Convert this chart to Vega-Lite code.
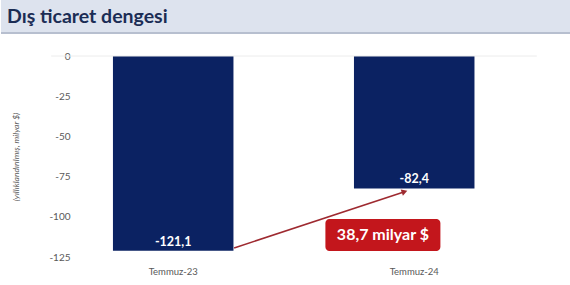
{
  "$schema": "https://vega.github.io/schema/vega-lite/v6.json",
  "padding": 0,
  "spacing": 17,
  "background": "white",
  "config": {
    "view": {"stroke": null},
    "font": "Lato",
    "locale": {"number": {"decimal": ",", "thousands": ".", "grouping": [3], "currency": ["", " $"], "minus": "-"}}
  },
  "vconcat": [
    {
      "width": 570,
      "height": 33,
      "view": {"fill": "#dde3ee", "stroke": null},
      "data": {"values": [{"title": "Dış ticaret dengesi"}]},
      "layer": [
        {
          "mark": {"type": "text", "align": "left", "baseline": "middle", "font": "Lato", "fontWeight": "bold", "fontSize": 19.5, "color": "#1b2d55", "dx": 6},
          "encoding": {
            "text": {"field": "title"},
            "x": {"datum": 0, "type": "quantitative", "scale": {"domain": [0, 1]}, "axis": null},
            "y": {"datum": 0.5, "type": "quantitative", "scale": {"domain": [0, 1]}, "axis": null}
          }
        },
        {
          "mark": {"type": "rule", "color": "#b7bfcf", "strokeWidth": 2},
          "encoding": {"y": {"datum": 0, "type": "quantitative"}}
        }
      ]
    },
    {
      "width": 570,
      "height": 201,
      "resolve": {"scale": {"x": "independent"}},
      "layer": [
        {
          "data": {"values": [
            {"period": "Temmuz-23", "value": -121.1},
            {"period": "Temmuz-24", "value": -82.4}
          ]},
          "encoding": {
            "x": {"field": "period", "type": "nominal", "sort": null,
              "scale": {"paddingInner": 0.5, "paddingOuter": 0.4325, "align": 0.537},
              "axis": {"title": null, "labelAngle": 0, "ticks": false, "domain": false, "labelPadding": 9, "labelFontSize": 9.5, "labelColor": "#595959", "labelFont": "Lato"}},
            "y": {"field": "value", "type": "quantitative",
              "scale": {"domain": [-125, 0], "nice": false, "zero": false},
              "axis": {"values": [0, -25, -50, -75, -100, -125], "offset": -72, "domain": false, "ticks": false, "grid": false, "labelPadding": 3, "labelFontSize": 10, "labelColor": "#595959", "labelFont": "Lato",
                "title": "(yıllıklandırılmış, milyar $)", "titleFontSize": 8.5, "titleFontStyle": "italic", "titleFontWeight": "normal", "titleColor": "#595959", "titlePadding": 28, "titleFont": "Lato"}}
          },
          "layer": [
            {"mark": {"type": "bar", "color": "#0b2262"}},
            {"mark": {"type": "text", "color": "white", "fontWeight": "bold", "fontSize": 12.5, "baseline": "middle", "dy": -9, "font": "Lato"},
             "encoding": {"text": {"field": "value", "type": "quantitative", "format": ".1f"}}}
          ]
        },
        {
          "data": {"values": [{"note": "38,7 milyar $"}]},
          "layer": [
            {
              "mark": {"type": "rule", "color": "#ececec", "strokeWidth": 1},
              "encoding": {
                "x": {"datum": 0.088, "type": "quantitative", "scale": {"domain": [0, 1], "nice": false, "zero": false}, "axis": null},
                "x2": {"datum": 0.94},
                "y": {"datum": 0, "type": "quantitative"}
              }
            },
            {
              "mark": {"type": "rule", "color": "#9e2a30", "strokeWidth": 1.6},
              "encoding": {
                "x": {"datum": 0.409, "type": "quantitative"},
                "x2": {"datum": 0.708},
                "y": {"datum": -119.4, "type": "quantitative"},
                "y2": {"datum": -84.4}
              }
            },
            {
              "mark": {"type": "point", "shape": "triangle-right", "filled": true, "color": "#9e2a30", "size": 45, "angle": 341, "opacity": 1},
              "encoding": {
                "x": {"datum": 0.708, "type": "quantitative"},
                "y": {"datum": -84.4, "type": "quantitative"}
              }
            },
            {
              "mark": {"type": "rect", "color": "#c3161c", "width": 115, "height": 32, "cornerRadius": 4},
              "encoding": {
                "x": {"datum": 0.67, "type": "quantitative"},
                "y": {"datum": -111.3, "type": "quantitative"}
              }
            },
            {
              "mark": {"type": "text", "color": "white", "fontWeight": "bold", "fontSize": 16, "baseline": "middle", "align": "center", "font": "Lato"},
              "encoding": {
                "x": {"datum": 0.67, "type": "quantitative"},
                "y": {"datum": -111.3, "type": "quantitative"},
                "text": {"field": "note"}
              }
            }
          ]
        }
      ]
    }
  ]
}
